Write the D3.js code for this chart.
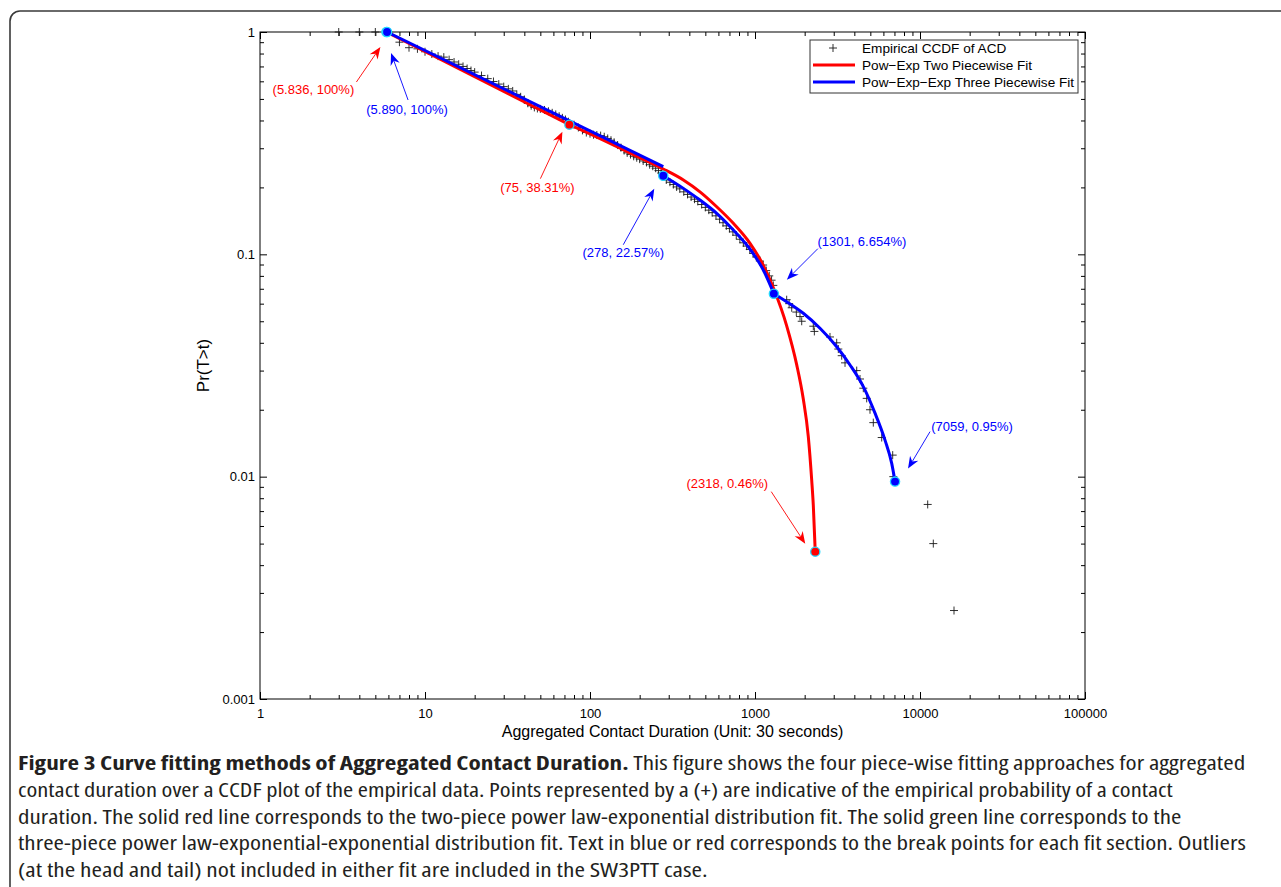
<!DOCTYPE html>
<html>
<head>
<meta charset="utf-8">
<script src="https://cdn.jsdelivr.net/npm/d3@7"></script>
<style>
  body { margin: 0; background: #fff; }
  svg { display: block; }
</style>
</head>
<body>
<svg id="chart" width="1281" height="887"></svg>
<script>
// ---- Empirical CCDF of aggregated contact duration (unit: 30 s) ----
const ccdfDuration = [
  3, 4, 5, 6, 7, 8, 9, 10, 11, 12, 13, 14, 15, 16, 17, 18, 19, 20, 22, 24, 26, 28, 30,
  32, 34, 36, 38, 40, 42, 44, 46, 48, 50, 53, 56, 59, 62, 65, 68, 71, 74,
  80, 85, 90, 95, 100, 105, 110, 116, 122, 128, 134, 140, 147, 154, 161, 168, 176,
  184, 192, 200, 210, 220, 230, 240, 250, 260, 270,
  290, 305, 320, 335, 350, 370, 390, 410, 430, 450, 475, 500, 525, 550, 580, 610,
  640, 670, 700, 735, 770, 810, 850, 890, 930, 975, 1020, 1070, 1120, 1170, 1220,
  1260, 1291,
  1556, 1610, 1669, 1780, 1874, 1919, 2256, 2290, 2848, 3127, 3199, 3354, 3512,
  4135, 4329, 4533, 4753, 4977, 5212, 5861, 6831, 6889, 11134, 12040, 16074
];
const ccdfProb = [
  1, 1, 1, 1, 0.90, 0.85, 0.84, 0.815, 0.796, 0.779, 0.771, 0.751, 0.733, 0.716, 0.700,
  0.685, 0.671, 0.660, 0.637, 0.617, 0.599, 0.583, 0.568,
  0.555, 0.543, 0.524, 0.511, 0.497, 0.478, 0.466, 0.458, 0.453, 0.451, 0.446, 0.440,
  0.433, 0.426, 0.418, 0.411, 0.404, 0.395,
  0.383, 0.372, 0.361, 0.353, 0.349, 0.345, 0.344, 0.342, 0.338, 0.332, 0.326, 0.319,
  0.310, 0.302, 0.293, 0.286, 0.281,
  0.276, 0.272, 0.268, 0.263, 0.259, 0.253, 0.249, 0.244, 0.238, 0.232,
  0.216, 0.211, 0.206, 0.201, 0.197, 0.191, 0.186, 0.181, 0.177, 0.173, 0.1675, 0.1626,
  0.158, 0.154, 0.149, 0.1439, 0.1387, 0.1343, 0.1306, 0.1262, 0.1219, 0.1169, 0.1127,
  0.1089, 0.1052, 0.1009, 0.0973, 0.0933, 0.0895, 0.0845, 0.080, 0.0765, 0.0725,
  0.0625, 0.06, 0.0575, 0.055, 0.0525, 0.05, 0.0475, 0.045, 0.0425, 0.04, 0.0375, 0.035,
  0.0325, 0.03, 0.0275, 0.025, 0.0225, 0.02, 0.0175, 0.015, 0.0125, 0.01, 0.0075, 0.005,
  0.0025
];

// ---- Pow-Exp two piecewise fit (red) ----
const redPowX = [5.836, 75];
const redPowY = [1, 0.3831];
const redExpX = [75, 110, 150, 200, 278, 368, 464, 586, 739, 933, 1123, 1301,
                 1556, 1789, 1962, 2104, 2206, 2256, 2318];
const redExpY = [0.3831, 0.337, 0.302, 0.272, 0.242, 0.216, 0.191, 0.1637, 0.1379,
                 0.1121, 0.0892, 0.0698, 0.0477, 0.0319, 0.02234, 0.01515, 0.00966,
                 0.00745, 0.0046];

// ---- Pow-Exp-Exp three piecewise fit (blue) ----
const bluePowX = [5.89, 278];
const bluePowY = [1, 0.248];
const blueExp1X = [278, 368, 464, 586, 739, 933, 1123, 1301];
const blueExp1Y = [0.2257, 0.198, 0.1755, 0.1529, 0.1286, 0.1055, 0.085, 0.06654];
const blueExp2X = [1301, 1556, 1962, 2477, 3127, 3766, 4533, 5338, 6137, 6739, 7059];
const blueExp2Y = [0.06654, 0.0612, 0.0543, 0.0465, 0.0384, 0.0318, 0.0254, 0.0193,
                   0.0146, 0.01148, 0.0095];

// ---- Break points and their labels ----
const redBreakX = [5.836, 75, 2318];
const redBreakY = [1, 0.3831, 0.0046];
const redBreakLabels = ["(5.836, 100%)", "(75, 38.31%)", "(2318, 0.46%)"];
const blueBreakX = [5.89, 278, 1301, 7059];
const blueBreakY = [1, 0.2257, 0.06654, 0.0095];
const blueBreakLabels = ["(5.890, 100%)", "(278, 22.57%)", "(1301, 6.654%)", "(7059, 0.95%)"];

// ---- Axis ticks and text ----
const xMajorTicks = [1, 10, 100, 1000, 10000, 100000];
const yMajorTicks = [0.001, 0.01, 0.1, 1];
const legendLabels = ["Empirical CCDF of ACD", "Pow\u2212Exp Two Piecewise Fit",
                      "Pow\u2212Exp\u2212Exp Three Piecewise Fit"];
const xTitle = "Aggregated Contact Duration (Unit: 30 seconds)";
const yTitle = "Pr(T>t)";
const captionBold = "Figure 3 Curve fitting methods of Aggregated Contact Duration.";
const captionLines = [
  " This figure shows the four piece-wise fitting approaches for aggregated",
  "contact duration over a CCDF plot of the empirical data. Points represented by a (+) are indicative of the empirical probability of a contact",
  "duration. The solid red line corresponds to the two-piece power law-exponential distribution fit. The solid green line corresponds to the",
  "three-piece power law-exponential-exponential distribution fit. Text in blue or red corresponds to the break points for each fit section. Outliers",
  "(at the head and tail) not included in either fit are included in the SW3PTT case."
];

// ------------------------------------------------------------------
const svg = d3.select("#chart");
const FONT = "'Liberation Sans', Arial, Helvetica, sans-serif";
const RED = "#ff0000", BLUE = "#0000ff", CYAN = "#22d8ff";

// outer rounded frame (only top/left edges fall inside the view)
svg.append("path")
  .attr("d", "M1285,11 H20 A10,10 0 0 0 10,21 V890")
  .attr("fill", "none").attr("stroke", "#3a3a3a").attr("stroke-width", 1.6);

const plot = { left: 260, right: 1085, top: 32, bottom: 699 };
const x = d3.scaleLog().domain([1, 100000]).range([plot.left, plot.right]);
const y = d3.scaleLog().domain([0.001, 1]).range([plot.bottom, plot.top]);

const isMajor = v => Math.abs(Math.log10(v) - Math.round(Math.log10(v))) < 1e-9;
const xMinor = x.ticks().filter(v => !isMajor(v));
const yMinor = y.ticks().filter(v => !isMajor(v));

function styleAxis(g) {
  g.select(".domain").remove();
  g.selectAll("line").attr("stroke", "#000").attr("stroke-width", 1);
  g.selectAll("text").attr("font-family", FONT).attr("font-size", 13).attr("fill", "#000");
}

// bottom / top axes
svg.append("g").attr("transform", `translate(0,${plot.bottom})`)
  .call(d3.axisBottom(x).tickValues(xMajorTicks).tickSize(-7).tickPadding(10)
        .tickFormat(d3.format("")))
  .call(styleAxis);
svg.append("g").attr("transform", `translate(0,${plot.bottom})`)
  .call(d3.axisBottom(x).tickValues(xMinor).tickSize(-4).tickFormat(""))
  .call(styleAxis);
svg.append("g").attr("transform", `translate(0,${plot.top})`)
  .call(d3.axisTop(x).tickValues(xMajorTicks).tickSize(-7).tickFormat(""))
  .call(styleAxis);
svg.append("g").attr("transform", `translate(0,${plot.top})`)
  .call(d3.axisTop(x).tickValues(xMinor).tickSize(-4).tickFormat(""))
  .call(styleAxis);

// left / right axes
svg.append("g").attr("transform", `translate(${plot.left},0)`)
  .call(d3.axisLeft(y).tickValues(yMajorTicks).tickSize(-7).tickPadding(5)
        .tickFormat(d3.format("")))
  .call(styleAxis);
svg.append("g").attr("transform", `translate(${plot.left},0)`)
  .call(d3.axisLeft(y).tickValues(yMinor).tickSize(-4).tickFormat(""))
  .call(styleAxis);
svg.append("g").attr("transform", `translate(${plot.right},0)`)
  .call(d3.axisRight(y).tickValues(yMajorTicks).tickSize(-7).tickFormat(""))
  .call(styleAxis);
svg.append("g").attr("transform", `translate(${plot.right},0)`)
  .call(d3.axisRight(y).tickValues(yMinor).tickSize(-4).tickFormat(""))
  .call(styleAxis);

// plot box
svg.append("rect")
  .attr("x", plot.left).attr("y", plot.top)
  .attr("width", plot.right - plot.left).attr("height", plot.bottom - plot.top)
  .attr("fill", "none").attr("stroke", "#000").attr("stroke-width", 1);

// axis titles
svg.append("text")
  .attr("x", (plot.left + plot.right) / 2).attr("y", 737)
  .attr("text-anchor", "middle").attr("font-family", FONT).attr("font-size", 16)
  .text(xTitle);
svg.append("text")
  .attr("transform", `translate(209,${(plot.top + plot.bottom) / 2}) rotate(-90)`)
  .attr("text-anchor", "middle").attr("font-family", FONT).attr("font-size", 17)
  .text(yTitle);

// empirical markers
const plus = "M-4,0H4M0,-4V4";
svg.append("g").selectAll("path")
  .data(d3.zip(ccdfDuration, ccdfProb))
  .join("path")
  .attr("transform", d => `translate(${x(d[0])},${y(d[1])})`)
  .attr("d", plus).attr("stroke", "#1a1a1a").attr("stroke-width", 0.9).attr("fill", "none");

// fitted curves
const line = d3.line().x(d => x(d[0])).y(d => y(d[1])).curve(d3.curveMonotoneX);
const drawFit = (xs, ys, color) =>
  svg.append("path").datum(d3.zip(xs, ys)).attr("d", line)
    .attr("fill", "none").attr("stroke", color).attr("stroke-width", 3)
    .attr("stroke-linejoin", "round");

drawFit(redPowX, redPowY, RED);
drawFit(redExpX, redExpY, RED);
drawFit(bluePowX, bluePowY, BLUE);
drawFit(blueExp1X, blueExp1Y, BLUE);
drawFit(blueExp2X, blueExp2Y, BLUE);

// break-point dots
const drawDots = (xs, ys, color) =>
  svg.append("g").selectAll("circle").data(d3.zip(xs, ys)).join("circle")
    .attr("cx", d => x(d[0])).attr("cy", d => y(d[1])).attr("r", 4.6)
    .attr("fill", color).attr("stroke", CYAN).attr("stroke-width", 1.3);
drawDots(redBreakX, redBreakY, RED);
drawDots(blueBreakX, blueBreakY, BLUE);

// annotation arrows: offsets (px) from each break point for tip, tail and label
const redNotes = [
  { tip: [-6, 15], tail: [-30, 50], label: [-73, 62] },
  { tip: [-7, 7], tail: [-29, 54], label: [-32, 67] },
  { tip: [-10, -8], tail: [-44, -60], label: [-88, -64] }
];
const blueNotes = [
  { tip: [4, 21], tail: [21, 68], label: [20, 82] },
  { tip: [-9, 13], tail: [-40, 69], label: [-40, 81] },
  { tip: [13, -14], tail: [44, -45], label: [88, -48] },
  { tip: [13, -13], tail: [35, -50], label: [77, -51] }
];

function arrow(g, x0, y0, x1, y1, color) {
  const dx = x1 - x0, dy = y1 - y0, len = Math.hypot(dx, dy);
  const ux = dx / len, uy = dy / len, nx = -uy, ny = ux;
  const L = 12, W = 4.8, notch = 3.8;
  const bx = x1 - ux * L, by = y1 - uy * L;
  const mx = x1 - ux * (L - notch), my = y1 - uy * (L - notch);
  g.append("line").attr("x1", x0).attr("y1", y0).attr("x2", mx).attr("y2", my)
    .attr("stroke", color).attr("stroke-width", 0.9);
  g.append("path")
    .attr("d", `M${x1},${y1}L${bx + nx * W},${by + ny * W}L${mx},${my}L${bx - nx * W},${by - ny * W}Z`)
    .attr("fill", color);
}

function annotate(xs, ys, labels, notes, color) {
  const g = svg.append("g");
  xs.forEach((v, i) => {
    const px = x(v), py = y(ys[i]), n = notes[i];
    arrow(g, px + n.tail[0], py + n.tail[1], px + n.tip[0], py + n.tip[1], color);
    g.append("text")
      .attr("x", px + n.label[0]).attr("y", py + n.label[1])
      .attr("text-anchor", "middle").attr("font-family", FONT).attr("font-size", 13)
      .attr("fill", color).text(labels[i]);
  });
}
annotate(redBreakX, redBreakY, redBreakLabels, redNotes, RED);
annotate(blueBreakX, blueBreakY, blueBreakLabels, blueNotes, BLUE);

// legend
const lg = svg.append("g").attr("transform", "translate(810,40)");
lg.append("rect").attr("width", 268).attr("height", 53)
  .attr("fill", "#fff").attr("stroke", "#333").attr("stroke-width", 1);
const legendRows = [
  { kind: "plus", color: "#1a1a1a" },
  { kind: "line", color: RED },
  { kind: "line", color: BLUE }
];
legendRows.forEach((r, i) => {
  const cy = 8 + i * 17;
  if (r.kind === "plus") {
    lg.append("path").attr("transform", `translate(23,${cy})`).attr("d", plus)
      .attr("stroke", r.color).attr("stroke-width", 0.9);
  } else {
    lg.append("line").attr("x1", 3).attr("x2", 45).attr("y1", cy).attr("y2", cy)
      .attr("stroke", r.color).attr("stroke-width", 3);
  }
  lg.append("text").attr("x", 52).attr("y", cy + 4.8)
    .attr("font-family", FONT).attr("font-size", 13.6).attr("fill", "#000")
    .text(legendLabels[i]);
});

// figure caption (condensed face, each line fitted to its measure)
const CAP_FONT = "'Open Sans', 'Noto Sans', sans-serif";
const capRight = [1246, 1174, 1182, 1247, 708];
const capLeft = 18, capBase = 770, capStep = 26.8;
captionLines.forEach((txt, i) => {
  const g = svg.append("g");
  const t = g.append("text").attr("x", 0).attr("y", 0)
    .attr("font-family", CAP_FONT).attr("font-size", 20)
    .attr("font-stretch", "condensed").attr("fill", "#231f20");
  if (i === 0) t.append("tspan").attr("font-weight", "bold").text(captionBold);
  t.append("tspan").text(txt);
  const w = t.node().getComputedTextLength();
  const s = (capRight[i] - capLeft) / w;
  g.attr("transform", `translate(${capLeft},${capBase + i * capStep}) scale(${s},1)`);
});
</script>
</body>
</html>
